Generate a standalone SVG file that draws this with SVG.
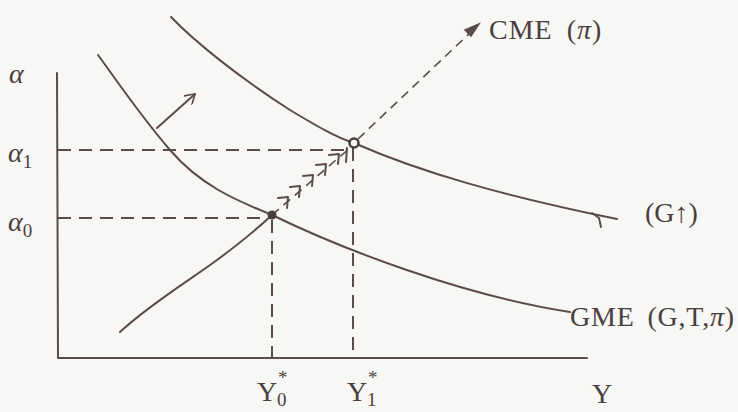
<svg xmlns="http://www.w3.org/2000/svg" width="738" height="412" viewBox="0 0 738 412">
<defs>
<style>
.ln{fill:none;stroke:#5b4c4c;stroke-width:2;stroke-linecap:round;stroke-linejoin:round}
.ds{fill:none;stroke:#5b4c4c;stroke-width:2;stroke-dasharray:13 8}
.dd{fill:none;stroke:#5b4c4c;stroke-width:1.6;stroke-dasharray:9 6}
.tx{font-family:"Liberation Serif",serif;font-size:28px;fill:#4a3e3e}
.it{font-style:italic}
.sb{font-size:19px}
</style>
<marker id="open" viewBox="0 0 10 10" refX="9" refY="5" markerWidth="12" markerHeight="12" markerUnits="userSpaceOnUse" orient="auto">
<path d="M1,0 L9,5 L1,10" fill="none" stroke="#5b4c4c" stroke-width="1.4"/>
</marker>
</defs>
<rect width="738" height="412" fill="#f7f7f5"/>
<g id="axes">
<path class="ln" d="M57,73 L58,358 L587,358"/>
</g>
<g id="connectors">
<path class="ds" d="M58,150 L350,150"/>
<path class="ds" d="M58,218 L268,218"/>
<path class="ds" d="M272,220 L272,358"/>
<path class="ds" d="M353,148 L353,358"/>
<path class="ln" d="M98,55 C120,85 140,115 170,150 C200,185 235,200 272,215 C340,248 460,295 570,312"/>
<path class="ln" d="M171,17 C195,42 240,78 290,110 C315,125 335,137 354,143 C420,172 500,195 617,219"/>
<path class="ln" d="M592,213 L599,218 M599,218 L601,227"/>
<path class="ln" d="M120,332 C150,304 190,280 217,260 C240,243 258,228 272,215"/>
<path class="dd" d="M272,215 L350,148"/>
<g class="ln">
<path d="M278,198 L288,197 L287,208"/>
<path d="M290,187 L300,186 L299,197"/>
<path d="M303,176 L313,175 L312,186"/>
<path d="M316,165 L326,164 L325,175"/>
<path d="M329,155 L339,154 L338,164"/>
</g>
<path class="ln" d="M347,148 L346,162"/>
<path class="dd" d="M358,139 L472,31"/>
<path d="M479,24 L465,30 L471,36 Z" fill="#5b4c4c" stroke="#5b4c4c" stroke-width="1.5"/>
<path class="ln" d="M157,128 L195,94" marker-end="url(#open)"/>
</g>
<g id="point0"><circle cx="272" cy="215" r="4.5" fill="#4a3e3e"/></g>
<g id="point1"><circle cx="354" cy="143" r="4.5" fill="#f7f7f5" stroke="#4a3e3e" stroke-width="2.5"/></g>
<g id="labels">
<text class="tx it" x="9" y="83">α</text>
<text class="tx it" x="8" y="162">α<tspan class="sb" font-style="normal" dy="6">1</tspan></text>
<text class="tx it" x="8" y="231">α<tspan class="sb" font-style="normal" dy="6">0</tspan></text>
<text class="tx" x="257" y="401">Y</text>
<text class="tx sb" x="278" y="384">*</text>
<text class="tx sb" x="277" y="406">0</text>
<text class="tx" x="347" y="401">Y</text>
<text class="tx sb" x="368" y="384">*</text>
<text class="tx sb" x="367" y="406">1</text>
<text class="tx" x="592" y="403">Y</text>
<text class="tx" x="489" y="39" word-spacing="6" letter-spacing="1">CME (<tspan class="it">π</tspan>)</text>
<text class="tx" x="645" y="222">(G↑)</text>
<text class="tx" x="570" y="326" word-spacing="5" letter-spacing="0.8">GME (G,T,<tspan class="it">π</tspan>)</text>
</g>
</svg>
